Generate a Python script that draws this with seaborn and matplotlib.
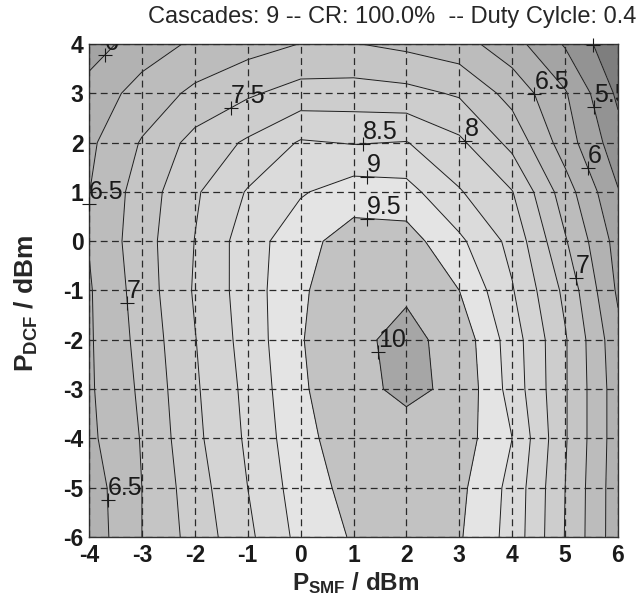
import numpy as np
import matplotlib
matplotlib.use("Agg")
import matplotlib.pyplot as plt
import seaborn as sns

# ---- data ----
p_smf = [-4, -3, -2, -1, 0, 1, 2, 3, 4, 5, 6]
p_dcf = [-6, -5, -4, -3, -2, -1, 0, 1, 2, 3, 4]

q_dcf_m6 = [6.20, 7.00, 7.69, 8.39, 9.15, 9.55, 9.75, 9.55, 8.82, 7.48, 6.20]
q_dcf_m5 = [6.24, 7.00, 7.77, 8.50, 9.25, 9.67, 9.75, 9.62, 8.85, 7.50, 6.20]
q_dcf_m4 = [6.39, 7.03, 7.88, 8.58, 9.35, 9.78, 9.82, 9.76, 9.00, 7.55, 6.22]
q_dcf_m3 = [6.43, 7.09, 7.93, 8.63, 9.43, 9.87, 10.10, 9.90, 8.80, 7.55, 6.22]
q_dcf_m2 = [6.44, 7.16, 7.98, 8.70, 9.47, 9.905, 10.12, 9.83, 8.75, 7.55, 6.15]
q_dcf_m1 = [6.45, 7.23, 8.05, 8.74, 9.45, 9.75, 9.94, 9.50, 8.54, 7.38, 5.92]
q_dcf_0 = [6.52, 7.29, 8.01, 8.76, 9.33, 9.73, 9.72, 9.10, 8.35, 7.05, 5.80]
q_dcf_p1 = [6.49, 7.23, 7.93, 8.54, 8.95, 9.25, 9.18, 8.54, 8.02, 6.74, 5.53]
q_dcf_p2 = [6.40, 7.04, 7.67, 8.07, 8.55, 8.47, 8.52, 8.10, 7.35, 6.25, 5.20]
q_dcf_p3 = [6.20, 6.69, 7.11, 7.43, 7.70, 7.72, 7.65, 7.44, 6.82, 6.05, 4.90]
q_dcf_p4 = [5.75, 6.25, 6.58, 6.80, 7.01, 7.02, 6.88, 6.70, 6.20, 5.45, 4.60]

levels = [4.5, 5.0, 5.5, 6.0, 6.5, 7.0, 7.5, 8.0, 8.5, 9.0, 9.5, 10.0, 10.5]
band_grays = ["#7e7e7e", "#939393", "#a4a4a4", "#b2b2b2", "#bcbcbc", "#c5c5c5",
              "#cdcdcd", "#d4d4d4", "#dbdbdb", "#e4e4e4", "#c2c2c2", "#a6a6a6"]

label_x = [-3.70, -1.28, -4.00, -3.32, -3.66, 1.18, 1.25, 1.25, 1.41, 3.15, 4.43, 5.55, 5.51, 5.19, 5.43]
label_y = [3.78, 2.64, 0.75, -1.25, -5.25, 1.91, 1.04, 0.27, -2.25, 2.09, 3.00, 2.72, 1.53, -0.75, 3.94]

title_text = "Cascades: 9 -- CR: 100.0%  -- Duty Cylcle: 0.4"

# ---- style ----
sns.set_theme(style="white")
plt.rcParams["font.family"] = ["Liberation Sans", "DejaVu Sans"]
plt.rcParams["axes.unicode_minus"] = False
plt.rcParams["mathtext.fontset"] = "custom"
plt.rcParams["mathtext.rm"] = "Liberation Sans"
plt.rcParams["mathtext.bf"] = "Liberation Sans:bold"
plt.rcParams["mathtext.it"] = "Liberation Sans:italic"

Z = np.array([q_dcf_m6, q_dcf_m5, q_dcf_m4, q_dcf_m3, q_dcf_m2, q_dcf_m1,
              q_dcf_0, q_dcf_p1, q_dcf_p2, q_dcf_p3, q_dcf_p4])
X, Y = np.meshgrid(p_smf, p_dcf)

fig = plt.figure(figsize=(6.44, 6.03), dpi=100)
ax = fig.add_axes([89 / 644, 66 / 603, 529 / 644, 493 / 603])

ax.contourf(X, Y, Z, levels=levels, colors=band_grays, zorder=1)
cs = ax.contour(X, Y, Z, levels=levels[1:-1], colors="#1e1e1e", linewidths=0.7, zorder=2)

ax.clabel(cs, manual=list(zip(label_x, label_y)), inline=False,
          fmt="%g", fontsize=18, colors="k")
for t in cs.labelTexts:
    tx, ty = t.get_position()
    ax.plot([tx], [ty], marker="+", color="k", markersize=10, mew=0.8,
            linestyle="none", clip_on=False, zorder=6)
    t.set_rotation(0)
    t.set_horizontalalignment("left")
    t.set_verticalalignment("bottom")
    t.set_zorder(7)

ax.set_xlim(-4, 6)
ax.set_ylim(-6, 4)
ax.set_xticks(p_smf)
ax.set_yticks(p_dcf)
ax.set_axisbelow(False)
ax.grid(True, linestyle=(0, (5.5, 3.5)), color="#2a2a2a", linewidth=0.9, zorder=3)
ax.tick_params(axis="both", direction="in", length=4, width=0.8, labelsize=16.5,
               colors="k")
ax.tick_params(axis="x", pad=5)
ax.tick_params(axis="y", pad=4)
for lab in ax.get_xticklabels() + ax.get_yticklabels():
    lab.set_fontweight("bold")
for sp in ax.spines.values():
    sp.set_color("#333333")
    sp.set_linewidth(1.0)

ax.set_xlabel(r"$\mathbf{P_{SMF}}$ / dBm", fontsize=17.5, fontweight="bold")
ax.set_ylabel(r"$\mathbf{P_{DCF}}$ / dBm", fontsize=19, fontweight="bold")
ax.xaxis.set_label_coords(0.505, -0.068)
ax.xaxis.label.set_verticalalignment("top")
ax.yaxis.set_label_coords(-0.092, 0.473)

fig.text(392 / 644, 1 - 17 / 603, title_text, ha="center", va="center",
         fontsize=17)

# labels that fall (almost) wholly outside the axes are clipped away: hide them
fig.canvas.draw()
renderer = fig.canvas.get_renderer()
ax_box = ax.get_window_extent(renderer)
for t in cs.labelTexts:
    bb = t.get_window_extent(renderer)
    inside_h = max(0.0, min(bb.y1, ax_box.y1) - max(bb.y0, ax_box.y0))
    if inside_h < 0.3 * bb.height:
        t.set_visible(False)

fig.savefig("out.png", dpi=100)
